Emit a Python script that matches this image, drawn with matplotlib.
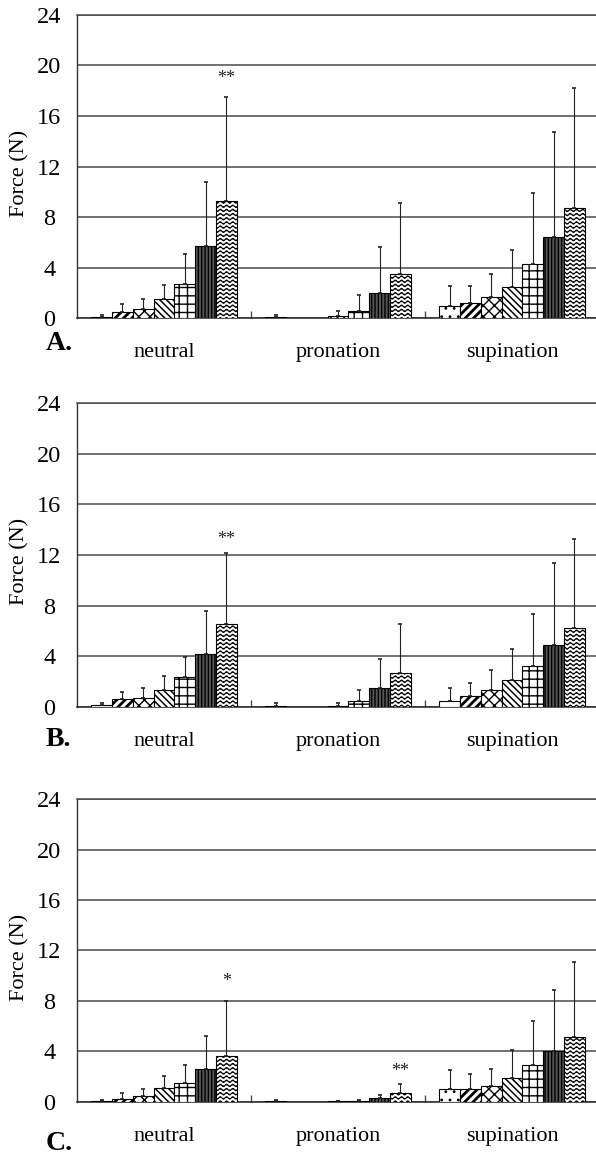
"""
Grouped bar chart of force (N) by forearm position, three panels A-C,
redrawn in the black-and-white patterned style of the original figure.
"""

import warnings

import numpy as np
import matplotlib
matplotlib.use('Agg')
import matplotlib.pyplot as plt
from matplotlib import hatch as mhatch
from matplotlib.path import Path

warnings.filterwarnings('ignore')

positions = ['neutral', 'pronation', 'supination']

# mean force per bar (7 series per position), one list per position
a_means = [[0.08, 0.5, 0.75, 1.5, 2.7, 5.7, 9.3],
           [0.06, 0.0, 0.0, 0.13, 0.55, 2.0, 3.5],
           [0.93, 1.2, 1.65, 2.45, 4.25, 6.4, 8.7]]
a_tops = [[0.25, 1.1, 1.5, 2.6, 5.1, 10.8, 17.5],
          [0.25, 0.0, 0.0, 0.55, 1.8, 5.6, 9.1],
          [2.5, 2.5, 3.5, 5.4, 9.9, 14.7, 18.2]]

b_means = [[0.1, 0.6, 0.66, 1.32, 2.32, 4.17, 6.54],
           [0.06, 0.0, 0.0, 0.08, 0.45, 1.45, 2.65],
           [0.47, 0.85, 1.36, 2.15, 3.25, 4.9, 6.25]]
b_tops = [[0.26, 1.2, 1.5, 2.43, 3.9, 7.6, 12.13],
          [0.26, 0.0, 0.0, 0.26, 1.35, 3.8, 6.55],
          [1.5, 1.9, 2.9, 4.6, 7.3, 11.4, 13.3]]

c_means = [[0.05, 0.2, 0.47, 1.08, 1.48, 2.6, 3.65],
           [0.08, 0.0, 0.0, 0.02, 0.08, 0.3, 0.72],
           [0.98, 0.99, 1.26, 1.85, 2.9, 4.03, 5.15]]
c_tops = [[0.13, 0.66, 0.98, 2.04, 2.9, 5.25, 8.0],
          [0.15, 0.0, 0.0, 0.05, 0.15, 0.55, 1.4],
          [2.53, 2.2, 2.6, 4.1, 6.4, 8.85, 11.05]]

# significance marks: (position index, series index, height, text)
a_marks = [(0, 6, 19.0, '**')]
b_marks = [(0, 6, 13.2, '**')]
c_marks = [(0, 6, 9.5, '*'), (1, 6, 2.4, '**')]

y_ticks = [0, 4, 8, 12, 16, 20, 24]


class WaveHatch(mhatch.HatchPatternBase):
    """Wavy horizontal lines, selected with '~' in the hatch string."""

    def __init__(self, hatch, density):
        self.num_lines = int(hatch.count('~') * density)
        self.num_pts = 16 * 8 + 1
        self.num_vertices = self.num_lines * self.num_pts

    def set_vertices_and_codes(self, vertices, codes):
        x = np.linspace(0.0, 1.0, self.num_pts)
        wave = 0.012 * np.sin(2 * np.pi * 16 * x)
        for i in range(self.num_lines):
            y0 = (i + 0.5) / self.num_lines
            s = slice(i * self.num_pts, (i + 1) * self.num_pts)
            vertices[s, 0] = x
            vertices[s, 1] = y0 + wave
            codes[s] = Path.LINETO
            codes[i * self.num_pts] = Path.MOVETO


mhatch._hatch_types.append(WaveHatch)

# one style per series: face colour, hatch, hatch line width
series_styles = [
    ('white', '..', 0.8),
    ('white', '////', 2.0),
    ('white', 'xxx', 1.0),
    ('white', '\\\\\\\\\\', 1.1),
    ('white', '++', 1.0),
    ('#555555', '|||||', 1.0),
    ('white', '~~~~', 0.8),
]

plt.rcParams['font.family'] = ['Liberation Serif', 'DejaVu Serif']
plt.rcParams['hatch.linewidth'] = 1.0

fig = plt.figure(figsize=(5.96, 11.6), dpi=100)

panels = [
    ('A.', a_means, a_tops, a_marks, [0.1292, 0.72586, 0.8758, 0.26121], 343),
    ('B.', b_means, b_tops, b_marks, [0.1292, 0.39078, 0.8758, 0.26155], 739),
    ('C.', c_means, c_tops, c_marks, [0.1292, 0.05026, 0.8758, 0.26069], 1143),
]

n_series = 7
bar_w = 0.1195
grid_col = '#4a4a4a'

for letter, means, tops, marks, rect, letter_y in panels:
    ax = fig.add_axes(rect)
    means = np.array(means)
    tops = np.array(tops)
    x = np.arange(len(positions))

    for j in range(n_series):
        face, hatch, hlw = series_styles[j]
        xs = x + (j - (n_series - 1) / 2) * bar_w
        with plt.rc_context({'hatch.linewidth': hlw}):
            bars = ax.bar(xs, means[:, j], width=bar_w, color=face,
                          hatch=hatch, edgecolor='black', linewidth=0.8,
                          zorder=3)
        for b in bars:
            if hasattr(b, 'set_hatch_linewidth'):
                b.set_hatch_linewidth(hlw)
        err = tops[:, j] - means[:, j]
        keep = tops[:, j] > 0
        ax.errorbar(xs[keep], means[keep, j],
                    yerr=[np.zeros(keep.sum()), err[keep]],
                    fmt='none', ecolor='#222222', elinewidth=0.8,
                    capsize=1.6, capthick=1.2, zorder=4)

    for pi, sj, h, txt in marks:
        xm = x[pi] + (sj - (n_series - 1) / 2) * bar_w
        ax.text(xm, h, txt, ha='center', va='center', fontsize=13,
                color='#222222', zorder=5)

    ax.set_xlim(-0.5, len(positions) - 0.5)
    ax.set_ylim(0, 24)
    ax.set_yticks(y_ticks)
    ax.yaxis.grid(True, color=grid_col, linewidth=1.1)
    ax.set_axisbelow(True)
    ax.tick_params(axis='y', length=0, pad=20, labelsize=17.5)
    for lab in ax.get_yticklabels():
        lab.set_horizontalalignment('center')

    ax.set_xticks(x)
    ax.set_xticklabels(positions, fontsize=16)
    ax.set_xticks([0.5, 1.5], minor=True)
    ax.tick_params(axis='x', which='major', length=0, pad=18)
    ax.tick_params(axis='x', which='minor', direction='in', length=5,
                   width=1, color=grid_col)

    ax.spines['right'].set_visible(False)
    ax.spines['top'].set_color(grid_col)
    ax.spines['top'].set_linewidth(1.1)
    ax.spines['left'].set_color('#333333')
    ax.spines['bottom'].set_color('#333333')
    ax.spines['left'].set_linewidth(1.0)
    ax.spines['bottom'].set_linewidth(1.2)

    ax.text(-0.109, 0.478, 'Force (N)', rotation=90, ha='center',
            va='center', fontsize=16, transform=ax.transAxes)
    fig.text(46 / 596, 1 - letter_y / 1160, letter, ha='left', va='center',
             fontsize=20, fontweight='bold')

fig.savefig('out.png', dpi=100, facecolor='white')
